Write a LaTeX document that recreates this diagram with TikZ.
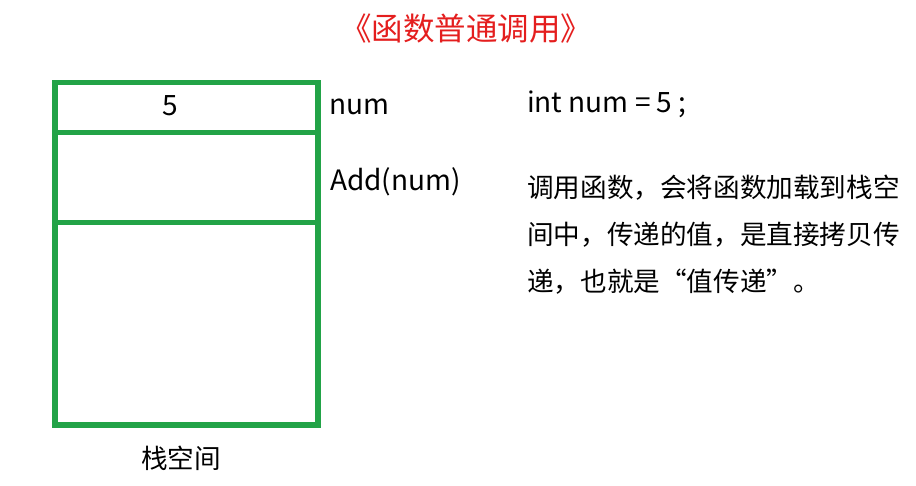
\documentclass[tikz,border=0pt]{standalone}
\usepackage{fontspec}
\setmainfont{Noto Sans CJK SC}
\definecolor{stackgreen}{RGB}{34,163,71}
\definecolor{titlered}{RGB}{228,30,30}
\begin{document}
\begin{tikzpicture}[x=1pt,y=-1pt,
  cell/.style={draw=stackgreen,line width=5.5pt,minimum width=263pt,inner sep=0pt,anchor=north west},
  latin/.style={font=\fontsize{28}{34}\selectfont,inner sep=0pt},
  hanzi/.style={font=\fontsize{26.6}{47}\selectfont,inner sep=0pt}]
\useasboundingbox (0,0) rectangle (916,486);
% title
\node[hanzi,font=\fontsize{31.5}{36}\selectfont,text=titlered] (title) at (466,29) {《函数普通调用》};
% stack cells
\node[cell,minimum height=50pt] (cellnum) at (52,80) {};
\node[cell,minimum height=90pt] (celladd) at (52,130) {};
\node[cell,minimum height=202pt] (cellrest) at (52,220) {};
\node[latin] (five) at (170,106) {5};
\node[latin,anchor=west] (numlbl) at (329,107) {num};
\node[latin,anchor=west] (addlbl) at (330,182) {Add(num)};
\node[hanzi] (stacklbl) at (181,458) {栈空间};
% right hand text
\node[latin,anchor=west] (decl) at (527,104) {int num = 5 ;};
\node[hanzi,anchor=north west,align=left] (expl) at (527,175)
  {调用函数，会将函数加载到栈空\\间中，传递的值，是直接拷贝传\\递，也就是“值传递”。};
\end{tikzpicture}
\end{document}
